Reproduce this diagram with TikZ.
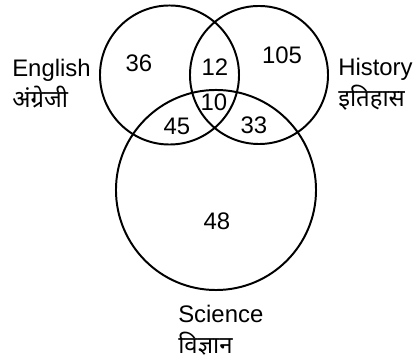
\documentclass[tikz,border=0pt]{standalone}
\usepackage{fontspec}
\setmainfont{Liberation Sans}
\newfontfamily\hindifont[Script=Devanagari]{Noto Sans}
\usepackage{tikz}
\usetikzlibrary{positioning}

\begin{document}
\begin{tikzpicture}[
    x=0.025cm, y=-0.025cm,
    font=\fontsize{17}{22}\selectfont,
    % subject circles: plain black outline, no fill
    setcircle/.style={circle, draw=black, line width=1.4pt, inner sep=0pt},
    count/.style={inner sep=0pt, anchor=center},
    setlabel/.style={inner sep=0pt, align=left, anchor=west}
]
\useasboundingbox (0,0) rectangle (417,360);

% =========================================================
% CIRCLES
% =========================================================
\node[setcircle, minimum size=3.475cm] (english) at (169.5,75) {};
\node[setcircle, minimum size=3.45cm] (history) at (259,75) {};
\node[setcircle, minimum size=5cm] (science) at (216,190) {};

% =========================================================
% REGION COUNTS
% =========================================================
\node[count] (onlyE) at (139,63) {36};
\node[count] (onlyH) at (282,55) {105};
\node[count] (onlyS) at (217,221) {48};
\node[count] (EH) at (215,67) {12};
\node[count] (EHS) at (214,102) {10};
\node[count] (ES) at (177,126) {45};
\node[count] (HS) at (254,125) {33};

% =========================================================
% SUBJECT LABELS
% =========================================================
\node[setlabel] (englishlabel) at (12,84) {English\\{\hindifont अंग्रेजी}};
\node[setlabel] (historylabel) at (338,84) {History\\{\hindifont इतिहास}};
\node[setlabel] (sciencelabel) at (178,330) {Science\\{\hindifont विज्ञान}};

\end{tikzpicture}
\end{document}
